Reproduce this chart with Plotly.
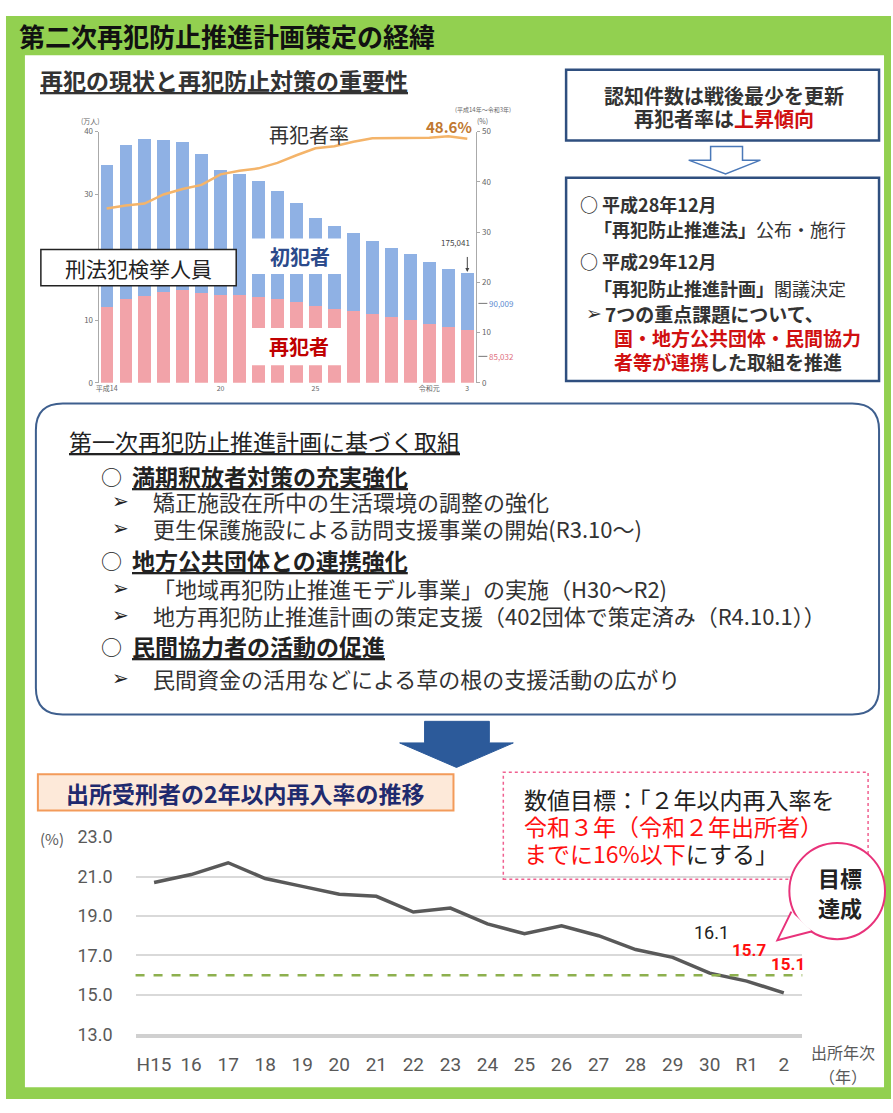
import plotly.graph_objects as go

W, H = 893, 1113
JP = "Noto Sans CJK JP, DejaVu Sans, sans-serif"
SYM = "DejaVu Sans, Noto Sans CJK JP, sans-serif"

# ---------------- data: top chart (万人 / %) ----------------
top_years = ["H14", "H15", "H16", "H17", "H18", "H19", "H20", "H21", "H22", "H23",
             "H24", "H25", "H26", "H27", "H28", "H29", "H30", "R1", "R2", "R3"]
recidivists = [12.06, 13.40, 13.89, 14.51, 14.83, 14.40, 14.10, 14.05, 13.78, 13.39,
               13.00, 12.26, 11.83, 11.49, 11.03, 10.47, 10.06, 9.40, 8.97, 8.50]
first_offenders = [22.70, 24.56, 25.01, 24.19, 23.60, 22.16, 19.88, 19.24, 18.48, 17.17,
                   15.70, 13.99, 13.28, 12.45, 11.61, 11.03, 10.55, 9.86, 9.29, 9.00]
recid_rate = [34.7, 35.3, 35.7, 37.5, 38.6, 39.4, 41.5, 42.2, 42.7, 43.8,
              45.3, 46.7, 47.1, 48.0, 48.7, 48.7, 48.8, 48.8, 49.1, 48.6]
top_tick_cats = ["H14", "H20", "H25", "R1", "R3"]
top_tick_text = ["平成14", "20", "25", "令和元", "3"]
top_left_ticks = [0, 10, 30, 40]          # the 20 tick sits under the label box
top_right_ticks = [0, 10, 20, 30, 40, 50]
total_last_label = "175,041"
first_last_label = "90,009"
recid_last_label = "85,032"

# ---------------- data: bottom chart (%) ----------------
bot_years = ["H15", "16", "17", "18", "19", "20", "21", "22", "23", "24",
             "25", "26", "27", "28", "29", "30", "R1", "2"]
reentry_rate = [20.7, 21.1, 21.7, 20.9, 20.5, 20.1, 20.0, 19.2, 19.4, 18.6,
                18.1, 18.5, 18.0, 17.3, 16.9, 16.1, 15.7, 15.1]
bot_y_ticks = [13, 15, 17, 19, 21, 23]
target_rate = 16.0


def X(px):
    return px / W


def Y(py):
    return 1 - py / H


shapes = []
annots = []


def rect(x0, y0, x1, y1, fill="white", line=None, lw=0, layer="below", dash="solid"):
    shapes.append(dict(type="rect", xref="paper", yref="paper",
                       x0=X(x0), x1=X(x1), y0=Y(y1), y1=Y(y0),
                       fillcolor=fill, layer=layer,
                       line=dict(color=line or fill, width=lw, dash=dash)))


def path(points, fill, line, lw, layer="above", close=True):
    d = "M " + " L ".join(f"{X(a):.5f},{Y(b):.5f}" for a, b in points)
    if close:
        d += " Z"
    shapes.append(dict(type="path", xref="paper", yref="paper", path=d,
                       fillcolor=fill, layer=layer, line=dict(color=line, width=lw)))


def rounded(x0, y0, x1, y1, r, line, lw):
    def p(a, b):
        return f"{X(a):.5f},{Y(b):.5f}"
    d = (f"M {p(x0 + r, y0)} L {p(x1 - r, y0)} Q {p(x1, y0)} {p(x1, y0 + r)} "
         f"L {p(x1, y1 - r)} Q {p(x1, y1)} {p(x1 - r, y1)} "
         f"L {p(x0 + r, y1)} Q {p(x0, y1)} {p(x0, y1 - r)} "
         f"L {p(x0, y0 + r)} Q {p(x0, y0)} {p(x0 + r, y0)} Z")
    shapes.append(dict(type="path", xref="paper", yref="paper", path=d,
                       fillcolor="white", layer="below", line=dict(color=line, width=lw)))


def txt(x, y, s, size=16, color="#222222", anchor="left", family=JP):
    annots.append(dict(x=X(x), y=Y(y), xref="paper", yref="paper", text=s,
                       showarrow=False, xanchor=anchor, yanchor="middle", borderpad=0,
                       font=dict(size=size, color=color, family=family)))


NAVY_BORDER = "#2F4F7F"

# ---------------- frame ----------------
rect(3, 5, 891, 1109, fill="#92D050")
rect(22, 45, 884, 1097, fill="white")
txt(15, 25, "<b>第二次再犯防止推進計画策定の経緯</b>", 26, "#111111")

# ---------------- top-left ----------------
txt(36, 70, "<b><u>再犯の現状と再犯防止対策の重要性</u></b>", 23, "#333333")
txt(88, 112, "(万人)", 7, "#666666", "center")
txt(481, 112, "(%)", 7, "#666666", "center")
txt(482, 100, "(平成14年～令和3年)", 6, "#666666", "center")
txt(307, 126, "再犯者率", 20, "#333333", "center")

# white label boxes over bars
rect(38, 243, 234, 280, fill="white", line="#222222", lw=1.5, layer="above")
txt(136, 262, "刑法犯検挙人員", 21, "#222222", "center")
rect(245, 232, 343, 268, fill="white", layer="above")
txt(298, 250, "<b>初犯者</b>", 20, "#2B4A8B", "center")
rect(245, 323, 343, 361, fill="white", layer="above")
txt(297, 342, "<b>再犯者</b>", 20, "#C00000", "center")

# right-of-axis value labels
shapes.append(dict(type="line", xref="paper", yref="paper", x0=X(477), x1=X(486),
                   y0=Y(298), y1=Y(298), line=dict(color="#777777", width=1), layer="above"))
txt(487, 298, first_last_label, 8, "#5B8BD0")
shapes.append(dict(type="line", xref="paper", yref="paper", x0=X(477), x1=X(486),
                   y0=Y(352), y1=Y(352), line=dict(color="#777777", width=1), layer="above"))
txt(487, 352, recid_last_label, 8, "#E07080")

# ---------------- top-right boxes ----------------
rect(565, 60, 879, 132, fill="white", line=NAVY_BORDER, lw=2.5)
txt(723, 86, "<b>認知件数は戦後最少を更新</b>", 20, "#333333", "center")
txt(723, 110, "<b>再犯者率は<span style='color:#D01010'>上昇傾向</span></b>", 20, "#333333", "center")
path([(710, 138), (742, 138), (742, 152), (760, 152), (725, 166), (688, 152), (710, 152)],
     "white", "#4A78B8", 1.5)
rect(565, 170, 879, 377, fill="white", line=NAVY_BORDER, lw=2.5)
txt(578, 197, "<b>○ 平成28年12月</b>", 18, "#333333")
txt(592, 222, "<b>「再犯防止推進法」</b>公布・施行", 18, "#333333")
txt(578, 255, "<b>○ 平成29年12月</b>", 18, "#333333")
txt(592, 282, "<b>「再犯防止推進計画」</b>閣議決定", 18, "#333333")
txt(584, 308, "➢", 19, "#333333", family=SYM)
txt(603, 308, "<b>7つの重点課題について、</b>", 19, "#333333")
txt(612, 333, "<b>国・地方公共団体・民間協力</b>", 19, "#D01010")
txt(612, 357, "<b><span style='color:#D01010'>者等が連携</span>した取組を推進</b>", 19, "#333333")

# ---------------- middle box ----------------
rounded(33, 400, 879, 717, 27, "#3E5F8E", 2)
txt(65, 438, "<u>第一次再犯防止推進計画に基づく取組</u>", 23, "#222222")
items = [
    ("h", 474, "<b><u>満期釈放者対策の充実強化</u></b>"),
    ("b", 499, "矯正施設在所中の生活環境の調整の強化"),
    ("b", 527, "更生保護施設による訪問支援事業の開始(R3.10～)"),
    ("h", 560, "<b><u>地方公共団体との連携強化</u></b>"),
    ("b", 588, "「地域再犯防止推進モデル事業」の実施（H30～R2)"),
    ("b", 616, "地方再犯防止推進計画の策定支援（402団体で策定済み（R4.10.1））"),
    ("h", 647, "<b><u>民間協力者の活動の促進</u></b>"),
    ("b", 680, "民間資金の活用などによる草の根の支援活動の広がり"),
]
for kind, yy, s in items:
    if kind == "h":
        txt(97, yy, "○", 21, "#222222")
        txt(128, yy, s, 23, "#222222")
    else:
        txt(108, yy, "➢", 20, "#222222", family=SYM)
        txt(150, yy, s, 22, "#333333")

# big arrow
path([(423, 724), (488, 724), (488, 746), (512, 746), (455, 771), (398, 746), (423, 746)],
     "#2C5A9A", "#2C5A9A", 1)

# ---------------- bottom ----------------
rect(35, 778, 452, 815, fill="#FDE9D9", line="#F39B5A", lw=2)
txt(243, 797, "<b>出所受刑者の2年以内再入率の推移</b>", 23, "#1F2A6E", "center")
rect(502, 776, 868, 885, fill="white", line="#F06090", lw=1.5, dash="dot")
txt(522, 803, "数値目標：「２年以内再入率を", 23, "#222222")
txt(522, 831, "令和３年（令和２年出所者）", 23, "#FF1010")
txt(522, 858, "<span style='color:#FF1010'>までに16%以下</span>にする」", 23, "#222222")

# speech bubble
shapes.append(dict(type="circle", xref="paper", yref="paper",
                   x0=X(789), x1=X(885), y0=Y(946), y1=Y(848),
                   fillcolor="white", layer="above", line=dict(color="#E8327A", width=2)))
path([(791, 918), (777, 947), (812, 938)], "white", "#E8327A", 2, close=False)
txt(840, 883, "<b>目標</b>", 22, "#222222", "center")
txt(840, 913, "<b>達成</b>", 22, "#222222", "center")

txt(49, 843, "(%)", 15, "#595959", "center")
txt(843, 1061, "出所年次", 16, "#595959", "center")
txt(843, 1085, "（年）", 16, "#595959", "center")

# ---------------- traces ----------------
fig = go.Figure()
fig.add_trace(go.Bar(x=top_years, y=recidivists, width=0.68, marker=dict(color="#F2A3A9", line=dict(width=0)),
                     xaxis="x", yaxis="y", showlegend=False, hoverinfo="skip"))
fig.add_trace(go.Bar(x=top_years, y=first_offenders, width=0.68, marker=dict(color="#8FB1E4", line=dict(width=0)),
                     xaxis="x", yaxis="y", showlegend=False, hoverinfo="skip"))
fig.add_trace(go.Scatter(x=top_years, y=recid_rate, mode="lines", line=dict(color="#F4B46A", width=2.5),
                         xaxis="x", yaxis="y2", showlegend=False, hoverinfo="skip"))
fig.add_trace(go.Scatter(x=bot_years, y=reentry_rate, mode="lines", line=dict(color="#595959", width=3.5),
                         xaxis="x2", yaxis="y3", showlegend=False, hoverinfo="skip"))

# data-referenced labels
last = len(top_years) - 1
annots.append(dict(x=last, y=recid_rate[-1], xref="x", yref="y2", text="<b>48.6%</b>", showarrow=False,
                   xshift=-18, yshift=12, font=dict(size=15, color="#C07830", family=JP)))
annots.append(dict(x=last, y=recidivists[-1] + first_offenders[-1], xref="x", yref="y", text=" ",
                   showarrow=True, ax=0, ay=-26, arrowhead=2, arrowsize=0.8, arrowwidth=1,
                   arrowcolor="#444444", standoff=1))
annots.append(dict(x=last, y=recidivists[-1] + first_offenders[-1], xref="x", yref="y", text=total_last_label,
                   showarrow=False, xshift=-12, yshift=30, font=dict(size=8, color="#444444", family=JP)))
i30, iR1, i2 = bot_years.index("30"), bot_years.index("R1"), bot_years.index("2")
annots.append(dict(x=i30, y=reentry_rate[i30], xref="x2", yref="y3", text="16.1", showarrow=False,
                   xshift=2, yshift=41, font=dict(size=18, color="#222222", family="Roboto, sans-serif")))
annots.append(dict(x=iR1, y=reentry_rate[iR1], xref="x2", yref="y3", text="<b>15.7</b>", showarrow=False,
                   xshift=2, yshift=31, font=dict(size=17, color="#FF1010", family="Roboto, sans-serif")))
annots.append(dict(x=i2, y=reentry_rate[i2], xref="x2", yref="y3", text="<b>15.1</b>", showarrow=False,
                   xshift=4, yshift=29, font=dict(size=17, color="#FF1010", family="Roboto, sans-serif")))

shapes.append(dict(type="line", xref="x2 domain", yref="y3", x0=0, x1=1, y0=target_rate, y1=target_rate,
                   line=dict(color="#8DB04E", width=2.5, dash="dash"), layer="above"))

small_axis = dict(showgrid=False, zeroline=False, showline=True, linecolor="#AAAAAA", linewidth=1,
                  ticks="outside", ticklen=3, tickcolor="#AAAAAA",
                  tickfont=dict(size=8, color="#666666", family=JP))

fig.update_layout(
    width=W, height=H, margin=dict(l=0, r=0, t=0, b=0),
    paper_bgcolor="white", plot_bgcolor="rgba(0,0,0,0)",
    font=dict(family=JP), barmode="stack", bargap=0, showlegend=False,
    xaxis=dict(domain=[X(96), X(475)], anchor="y", type="category", categoryorder="array",
               categoryarray=top_years, range=[-0.42, 19.48], tickvals=top_tick_cats,
               ticktext=top_tick_text, showgrid=False, zeroline=False, showline=False, ticks="",
               tickfont=dict(size=7, color="#666666", family=JP), fixedrange=True),
    yaxis=dict(domain=[Y(379), Y(123)], anchor="x", range=[0, 40], tickvals=top_left_ticks, **small_axis),
    yaxis2=dict(overlaying="y", side="right", anchor="x", range=[0, 50], tickvals=top_right_ticks, **small_axis),
    xaxis2=dict(domain=[X(133), X(802)], anchor="y3", type="category", categoryorder="array",
                categoryarray=bot_years, range=[-0.5, 17.5], showgrid=False, zeroline=False,
                showline=True, linecolor="#D0D0D0", linewidth=4, ticks="", ticklabelstandoff=10,
                tickfont=dict(size=19, color="#595959", family="Roboto, sans-serif")),
    yaxis3=dict(domain=[Y(1043), Y(842)], anchor="x2", range=[13, 23], tickvals=bot_y_ticks,
                tickformat=".1f", showgrid=True, gridcolor="#D9D9D9", gridwidth=1.5,
                zeroline=False, showline=False, ticks="", ticklabelstandoff=22,
                tickfont=dict(size=18, color="#595959", family="Roboto, sans-serif")),
    shapes=shapes, annotations=annots,
)

fig.write_html("out.html", config={"displayModeBar": False},
               post_script="document.body.style.margin='0';document.body.style.padding='0';"
                           "document.body.style.overflow='hidden';")
